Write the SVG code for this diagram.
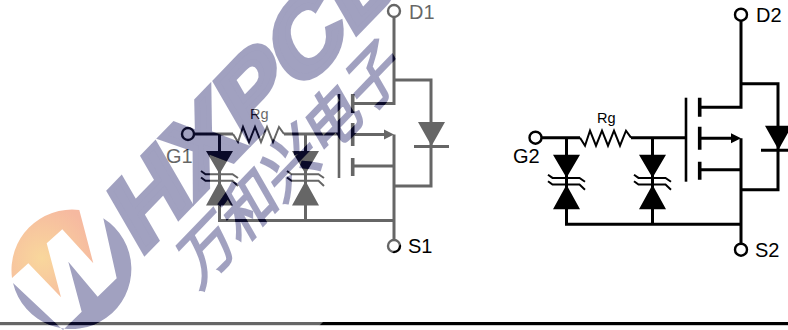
<svg xmlns="http://www.w3.org/2000/svg" xmlns:xlink="http://www.w3.org/1999/xlink" width="788" height="330" viewBox="0 0 788 330">
<style>
.w{fill:none;stroke:#000;stroke-width:3;stroke-linejoin:miter}
.t{fill:none;stroke:#000;stroke-width:2.6}
.r{fill:none;stroke:#000;stroke-width:2}
.f{fill:#000}
.c{fill:#fff;stroke:#000;stroke-width:2.4}
.l{font-family:"Liberation Sans",Arial,sans-serif;font-size:20px;fill:#000}
.s{font-family:"Liberation Sans",Arial,sans-serif;font-size:14.500px;fill:#000}
.wl{font-family:"Liberation Sans",Arial,sans-serif;font-weight:700;font-size:98px;stroke-width:6px;stroke-linejoin:miter}
.wc{font-family:"Noto Sans CJK SC",sans-serif;font-size:60px;stroke-width:2.2px}
</style>
<defs>
<g id="tvs">
<path class="f" d="M-13.5 0H13.5L0 23ZM-13.5 54.5H13.5L0 30Z"/>
<path class="r" d="M-18.5 20 L-14 23.2H13L18.5 27M-18.5 26.5 L-14 29.8H13L18.5 35"/>
</g>
<g id="wm">
<text class="wl" transform="translate(140 257) rotate(-46) skewX(-16) scale(1.12 1)">HXPCB</text>
<text class="wc" transform="translate(198 290) rotate(-46) skewX(-16)">万和兴电子</text>
</g>
<path id="blue" d="M13 283L63 330L81.7 311.7L68.3 261.7L97.7 296.7L116.7 278.3L103.3 218.3A60 60 0 1 1 13 283Z"/>
<radialGradient id="og" gradientUnits="userSpaceOnUse" cx="42" cy="258" r="55">
<stop offset="0" stop-color="#f9d79c"/><stop offset="1" stop-color="#f6b9a0"/>
</radialGradient>
<mask id="m" maskUnits="userSpaceOnUse" x="0" y="0" width="788" height="330">
<rect width="788" height="330" fill="#fff"/>
<use href="#wm" fill="#000" stroke="#000"/>
<use href="#blue" fill="#000"/>
</mask>
</defs>

<g id="base">
<rect id="rule" x="0" y="322" width="788" height="3.2" fill="#000"/>

<g id="connectors">
<g id="wires-1">
<path class="w" d="M194 134H233M284 134H339M219.500 134V220.500H394M305.500 134V220.500"/>
<path class="w" d="M394 17V103.500H353M394 80H431V186H394M394 134.500V240M353 166H394"/>
<path class="w" d="M353 134.500H386"/>
<path class="f" d="M384 129.500L394 134.500L384 139.500Z"/>
</g>
<g id="wires-2" transform="translate(347 3.700)">
<path class="w" d="M194 134H233M284 134H339M219.500 134V220.500H394M305.500 134V220.500"/>
<path class="w" d="M394 17V103.500H353M394 80H431V186H394M394 134.500V240M353 166H394"/>
<path class="w" d="M353 134.500H386"/>
<path class="f" d="M384 129.500L394 134.500L384 139.500Z"/>
</g>
</g>

<g id="n1-gate"><circle class="c" cx="188" cy="134" r="6"/><text class="l" x="166" y="163">G1</text></g>
<g id="n1-drain"><circle class="c" cx="394" cy="11" r="6"/><text class="l" x="409" y="18.500">D1</text></g>
<g id="n1-source"><circle class="c" cx="394" cy="246" r="6"/><text class="l" x="408" y="253">S1</text></g>
<g id="n1-rg"><path class="r" d="M233 134L238 142L243 127L249 142L255 127L261 142L267 127L273 142L279 127L284 134"/><text class="s" x="250" y="119">Rg</text></g>
<g id="n1-tvs1"><use href="#tvs" x="219.500" y="151"/></g>
<g id="n1-tvs2"><use href="#tvs" x="305.500" y="151"/></g>
<g id="n1-fet"><path class="t" d="M339 94V178"/><path d="M352.700 94V113M352.700 123V146M352.700 158V176" fill="none" stroke="#000" stroke-width="3.600"/></g>
<g id="n1-diode"><path class="f" d="M418 122H445L431.500 146Z"/><path class="w" d="M414 146.500H449"/></g>

<g id="n2-gate" transform="translate(347 3.700)"><circle class="c" cx="188.500" cy="134" r="6"/><text class="l" x="166" y="159.500">G2</text></g>
<g id="n2-drain" transform="translate(347 3.700)"><circle class="c" cx="394" cy="11" r="6"/><text class="l" x="409" y="18">D2</text></g>
<g id="n2-source" transform="translate(347 3.700)"><circle class="c" cx="394" cy="246" r="6"/><text class="l" x="408" y="253">S2</text></g>
<g id="n2-rg" transform="translate(347 3.700)"><path class="r" d="M233 134L238 142L243 127L249 142L255 127L261 142L267 127L273 142L279 127L284 134"/><text class="s" x="250" y="119">Rg</text></g>
<g id="n2-tvs1" transform="translate(347 3.700)"><use href="#tvs" x="219.500" y="151"/></g>
<g id="n2-tvs2" transform="translate(347 3.700)"><use href="#tvs" x="305.500" y="151"/></g>
<g id="n2-fet" transform="translate(347 3.700)"><path class="t" d="M339 94V178"/><path d="M352.700 94V113M352.700 123V146M352.700 158V176" fill="none" stroke="#000" stroke-width="3.600"/></g>
<g id="n2-diode" transform="translate(347 3.700)"><path class="f" d="M418 122H445L431.500 146Z"/><path class="w" d="M414 146.500H449"/></g>
</g>

<g id="watermark">
<polygon points="0,0 645,0 0,645" fill="#fff" fill-opacity=".4" mask="url(#m)"/>
<g fill="#191964" stroke="#191964" opacity=".41"><use href="#wm"/><use href="#blue" stroke="none"/></g>
<path d="M12 278L28.300 263.300L61 297.300L46.700 243.300L62.300 229.300L93.300 263.300L79.300 210A60.500 60.500 0 0 0 12 278Z" fill="url(#og)"/>
</g>
</svg>
